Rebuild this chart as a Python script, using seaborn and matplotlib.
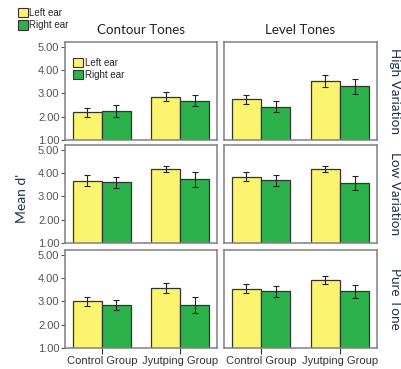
import matplotlib
matplotlib.use('Agg')
import matplotlib.pyplot as plt
import numpy as np
import pandas as pd
import seaborn as sns
from matplotlib.patches import Patch

groups = ['Control Group', 'Jyutping Group']
ears = ['Left ear', 'Right ear']
tones = ['Contour Tones', 'Level Tones']
conditions = ['High Variation', 'Low Variation', 'Pure Tone']

# mean d' per (condition, tone) -> [left ear per group], [right ear per group]
high_contour_left = [2.19, 2.85]
high_contour_right = [2.24, 2.69]
high_level_left = [2.75, 3.53]
high_level_right = [2.43, 3.30]
low_contour_left = [3.67, 4.18]
low_contour_right = [3.61, 3.74]
low_level_left = [3.85, 4.18]
low_level_right = [3.68, 3.58]
pure_contour_left = [3.01, 3.57]
pure_contour_right = [2.83, 2.84]
pure_level_left = [3.54, 3.92]
pure_level_right = [3.43, 3.43]

# error bar half-widths, same layout
high_contour_left_err = [0.20, 0.19]
high_contour_right_err = [0.24, 0.25]
high_level_left_err = [0.19, 0.26]
high_level_right_err = [0.25, 0.33]
low_contour_left_err = [0.23, 0.13]
low_contour_right_err = [0.24, 0.32]
low_level_left_err = [0.20, 0.14]
low_level_right_err = [0.23, 0.29]
pure_contour_left_err = [0.19, 0.23]
pure_contour_right_err = [0.21, 0.33]
pure_level_left_err = [0.19, 0.16]
pure_level_right_err = [0.23, 0.29]

means = {
    ('High Variation', 'Contour Tones'): (high_contour_left, high_contour_right),
    ('High Variation', 'Level Tones'): (high_level_left, high_level_right),
    ('Low Variation', 'Contour Tones'): (low_contour_left, low_contour_right),
    ('Low Variation', 'Level Tones'): (low_level_left, low_level_right),
    ('Pure Tone', 'Contour Tones'): (pure_contour_left, pure_contour_right),
    ('Pure Tone', 'Level Tones'): (pure_level_left, pure_level_right),
}
errs = {
    ('High Variation', 'Contour Tones'): (high_contour_left_err, high_contour_right_err),
    ('High Variation', 'Level Tones'): (high_level_left_err, high_level_right_err),
    ('Low Variation', 'Contour Tones'): (low_contour_left_err, low_contour_right_err),
    ('Low Variation', 'Level Tones'): (low_level_left_err, low_level_right_err),
    ('Pure Tone', 'Contour Tones'): (pure_contour_left_err, pure_contour_right_err),
    ('Pure Tone', 'Level Tones'): (pure_level_left_err, pure_level_right_err),
}

yellow = '#FBF46E'
green = '#2BB24B'
palette = {'Left ear': yellow, 'Right ear': green}

sns.set_style('white')
plt.rcParams['font.family'] = ['Liberation Sans', 'DejaVu Sans']

W, H = 402, 369
fig = plt.figure(figsize=(W / 100, H / 100), dpi=100)

col_x = [(65, 217), (224, 377)]
row_y = [(42, 140), (145, 243), (250, 348)]

for r, cond in enumerate(conditions):
    for c, tone in enumerate(tones):
        x0, x1 = col_x[c]
        y0, y1 = row_y[r]
        ax = fig.add_axes([x0 / W, 1 - y1 / H, (x1 - x0) / W, (y1 - y0) / H])
        left, right = means[(cond, tone)]
        el, er = errs[(cond, tone)]
        df = pd.DataFrame({
            'group': groups * 2,
            'ear': [ears[0]] * 2 + [ears[1]] * 2,
            'mean': left + right,
            'err': el + er,
        })
        sns.barplot(data=df, x='group', y='mean', hue='ear', order=groups,
                    hue_order=ears, palette=palette, width=0.74, saturation=1,
                    errorbar=None, edgecolor='#333333', linewidth=0.9,
                    legend=False, ax=ax)
        # error bars at the bar centres seaborn produced
        bars = [p for p in ax.patches if p.get_height() > 0]
        bars.sort(key=lambda p: p.get_x())
        order = [(groups.index(g), ears.index(e)) for g, e in zip(df['group'], df['ear'])]
        vals = [v for _, v in sorted(zip(order, zip(df['mean'], df['err'])))]
        for p, (m, e) in zip(bars, vals):
            ax.errorbar(p.get_x() + p.get_width() / 2, m, yerr=e, fmt='none',
                        ecolor='#222222', elinewidth=0.8, capsize=2.5, capthick=0.8)
        ax.set_ylim(1, 5.2)
        ax.set_xlim(-0.47, 1.47)
        ax.set_xlabel('')
        ax.set_ylabel('')
        for s in ax.spines.values():
            s.set_color('#808080')
            s.set_linewidth(1.1)
        ax.set_yticks([1, 2, 3, 4, 5])
        if c == 0:
            ax.set_yticklabels(['%.2f' % v for v in [1, 2, 3, 4, 5]],
                               fontsize=8, color='#555555')
            ax.tick_params(axis='y', length=3, width=0.8, color='#555555',
                           left=True, pad=1)
        else:
            ax.set_yticklabels([])
            ax.tick_params(axis='y', left=False)
        if r == 2:
            ax.tick_params(axis='x', length=4, width=0.8, color='#333333',
                           bottom=True, labelsize=8, labelcolor='#333333', pad=2)
        else:
            ax.set_xticklabels([])
            ax.tick_params(axis='x', bottom=False)
        if r == 0:
            ax.set_title(tone, fontsize=9.6, color='#222222', pad=6,
                         family=['Lato', 'DejaVu Sans'])
        if c == 1:
            ax.text(1.12, 0.5, cond, transform=ax.transAxes, rotation=270,
                    ha='center', va='center', fontsize=9.7, color='#1F3050',
                    family=['Lato', 'DejaVu Sans'])
        if r == 0 and c == 0:
            handles = [Patch(facecolor=palette[e], edgecolor='#333333', lw=0.8) for e in ears]
            ax.legend(handles, ears, loc='upper left', bbox_to_anchor=(0.03, 0.88),
                      frameon=False, fontsize=7, handlelength=1.0, handleheight=1.1,
                      handletextpad=0.15, labelspacing=0.25, borderaxespad=0)
            fig.legend(handles, ears, loc='upper left', bbox_to_anchor=(14 / W, 1 - 4 / H),
                       frameon=False, fontsize=7, handlelength=1.0, handleheight=1.1,
                       handletextpad=0.15, labelspacing=0.25, borderaxespad=0)

fig.text(22 / W, 1 - 198 / H, "Mean d'", rotation=90, ha='center', va='center',
         fontsize=10, color='#1F3050', family=['Lato', 'DejaVu Sans'])

fig.savefig('out.png', dpi=100)
